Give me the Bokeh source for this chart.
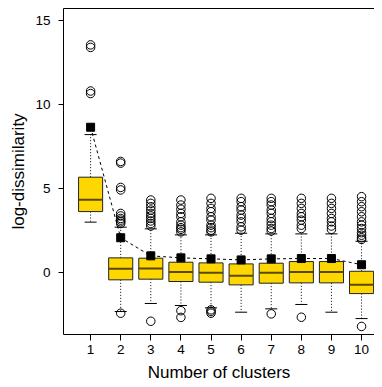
from bokeh.plotting import figure
from bokeh.models import Range1d, FixedTicker, LinearAxis
from bokeh.embed import file_html
from bokeh.resources import INLINE

clusters = [1, 2, 3, 4, 5, 6, 7, 8, 9, 10]
q1 = [3.61, -0.46, -0.42, -0.56, -0.60, -0.76, -0.66, -0.64, -0.64, -1.28]
med = [4.31, 0.20, 0.21, 0.00, -0.04, -0.22, -0.04, 0.00, 0.00, -0.76]
q3 = [5.66, 0.85, 0.83, 0.59, 0.55, 0.49, 0.53, 0.63, 0.63, 0.05]
whisk_lo = [2.98, -2.35, -1.87, -1.99, -2.13, -2.39, -2.19, -1.93, -2.39, -2.77]
whisk_hi = [8.20, 2.68, 2.58, 2.22, 2.22, 2.32, 2.28, 2.28, 2.28, 1.84]
means = [8.64, 2.05, 0.97, 0.85, 0.79, 0.73, 0.79, 0.81, 0.81, 0.44]
outliers = {
    1: [10.65, 10.80, 13.40, 13.55],
    2: [2.90, 3.00, 3.10, 3.20, 3.35, 3.50, 4.90, 5.05, 6.50, 6.60, -2.45],
    3: [2.75, 2.90, 3.05, 3.20, 3.35, 3.50, 3.70, 3.90, 4.10, 4.30, -2.93],
    4: [2.40, 2.55, 2.65, 2.80, 3.00, 3.30, 3.50, 3.75, 4.00, 4.30, -2.30, -2.70],
    5: [2.40, 2.50, 2.65, 2.80, 3.10, 3.30, 3.60, 3.80, 4.10, 4.40, -2.25, -2.35, -2.45],
    6: [2.50, 2.70, 3.00, 3.20, 3.40, 3.70, 3.90, 4.20, 4.40],
    7: [2.45, 2.60, 2.80, 3.00, 3.20, 3.50, 3.70, 4.00, 4.20, 4.40, -2.49],
    8: [2.60, 2.80, 3.10, 3.30, 3.50, 3.80, 4.10, 4.40, -2.69],
    9: [2.55, 2.75, 3.00, 3.20, 3.50, 3.80, 4.10, 4.40],
    10: [1.95, 2.05, 2.20, 2.35, 2.60, 2.80, 3.00, 3.30, 3.60, 3.90, 4.20, 4.50, -3.24],
}
y_ticks = [0, 5, 10, 15]
x_label = "Number of clusters"
y_label = "log-dissimilarity"

FONT = "Liberation Sans"
box_w = 0.8
cap_w = 0.4

p = figure(width=374, height=386, frame_width=311, frame_height=326,
           output_backend="svg", toolbar_location=None,
           x_range=Range1d(0.1, 10.43), y_range=Range1d(-3.72, 15.72),
           min_border_left=63, min_border_right=0, min_border_top=8, min_border_bottom=52)
p.background_fill_color = "white"
p.border_fill_color = "white"
p.outline_line_color = None
p.grid.visible = False

# top frame line (the right side of the frame lies outside the picture)
top_axis = LinearAxis(ticker=FixedTicker(ticks=[]), axis_line_color="black", axis_line_width=1,
                      major_tick_out=0, major_tick_in=0, minor_tick_out=0, minor_tick_in=0,
                      major_label_standoff=0)
p.add_layout(top_axis, "above")

xax = p.below[0]
yax = p.left[0]
xax.ticker = FixedTicker(ticks=clusters)
yax.ticker = FixedTicker(ticks=y_ticks)

# whiskers (dotted)
p.segment(x0=clusters, y0=q3, x1=clusters, y1=whisk_hi, line_color="black", line_dash="1 2", line_width=1)
p.segment(x0=clusters, y0=q1, x1=clusters, y1=whisk_lo, line_color="black", line_dash="1 2", line_width=1)
# caps
p.segment(x0=[c - cap_w / 2 for c in clusters], y0=whisk_hi, x1=[c + cap_w / 2 for c in clusters], y1=whisk_hi,
          line_color="black", line_width=1)
p.segment(x0=[c - cap_w / 2 for c in clusters], y0=whisk_lo, x1=[c + cap_w / 2 for c in clusters], y1=whisk_lo,
          line_color="black", line_width=1)
# boxes
p.vbar(x=clusters, width=box_w, bottom=q1, top=q3, fill_color="#FFD700", line_color="#222222", line_width=1)
# medians
p.segment(x0=[c - box_w / 2 for c in clusters], y0=med, x1=[c + box_w / 2 for c in clusters], y1=med,
          line_color="#5a4800", line_width=2)
# outliers
ox = []
oy = []
for c in clusters:
    for v in outliers[c]:
        ox.append(c)
        oy.append(v)
p.scatter(ox, oy, marker="circle", size=8.5, fill_color=None, line_color="black", line_width=1)
# mean line and points
p.line(clusters, means, line_color="black", line_dash="3 3", line_width=1)
p.scatter(clusters, means, marker="square", size=8, fill_color="black", line_color="black")

# axes
for ax in (xax, yax):
    ax.axis_line_color = "black"
    ax.axis_line_width = 1
    ax.major_tick_in = 0
    ax.major_tick_out = 6
    ax.minor_tick_line_color = None
    ax.major_tick_line_color = "black"
    ax.major_label_text_font = FONT
    ax.major_label_text_font_size = "13.5px"
    ax.major_label_text_color = "black"
    ax.axis_label_text_font = FONT
    ax.axis_label_text_font_size = "17px"
    ax.axis_label_text_font_style = "normal"
    ax.axis_label_text_color = "black"
xax.axis_label = x_label
yax.axis_label = y_label
xax.major_label_standoff = 4
xax.axis_label_standoff = 6
yax.major_tick_out = 5
yax.major_label_standoff = 8
yax.axis_label_standoff = 4
yax.major_label_orientation = "horizontal"

open("out.html", "w").write(file_html(p, INLINE))
